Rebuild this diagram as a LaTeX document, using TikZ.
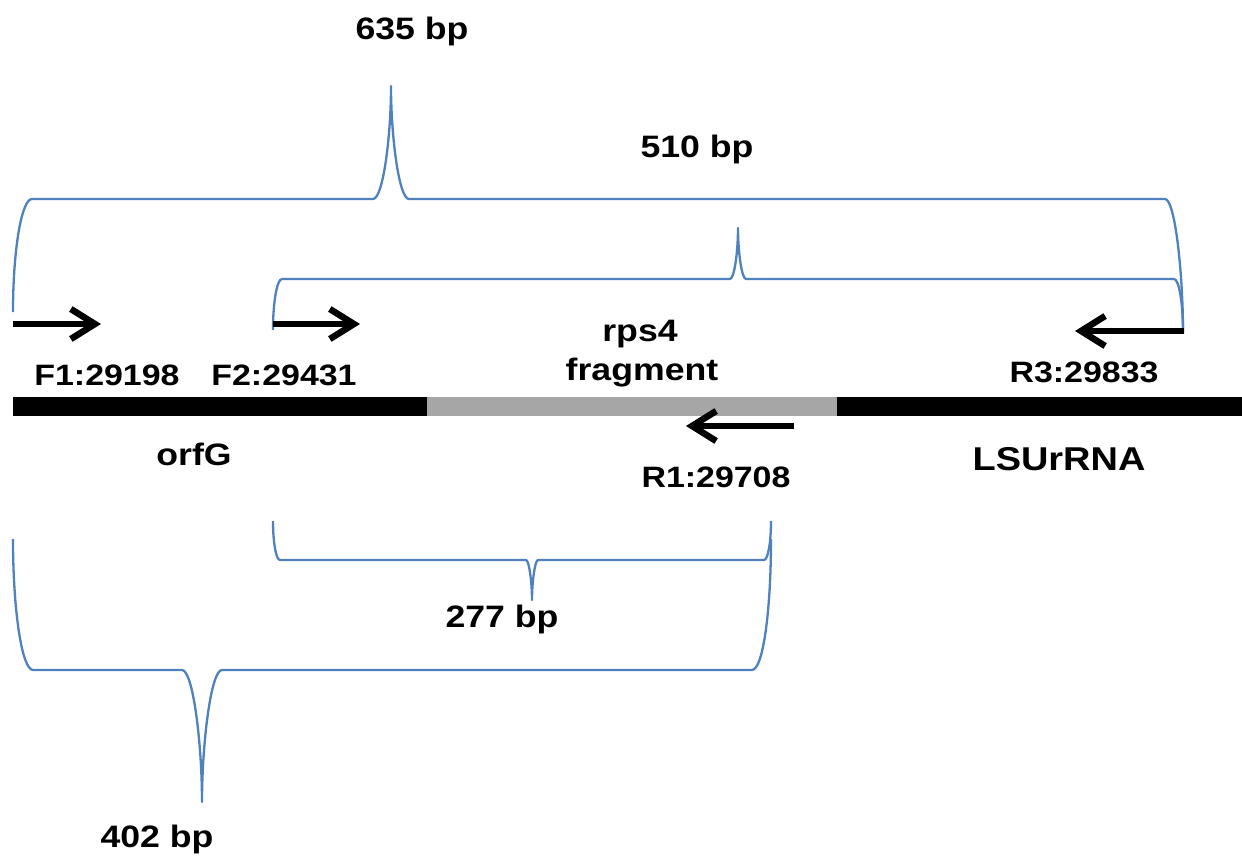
\documentclass[tikz,border=0pt]{standalone}
\usepackage{fontspec}
\setmainfont{Liberation Sans}[FakeStretch=1.15]
\usetikzlibrary{arrows.meta}
\definecolor{braceblue}{HTML}{4F81BD}
\definecolor{fraggray}{HTML}{A6A6A6}
\tikzset{
  brace/.style={draw=braceblue, line width=2.3pt, line join=round},
  primer/.style={line width=6.5pt, -{Straight Barb[length=24pt,width=30pt,line width=6.5pt]}},
  lab/.style={anchor=base, inner sep=0pt, font=\fontsize{31}{37}\selectfont\bfseries},
  primlab/.style={anchor=base, inner sep=0pt, font=\fontsize{29.5}{35}\selectfont\bfseries},
  biglab/.style={anchor=base, inner sep=0pt, font=\fontsize{33}{39}\selectfont\bfseries},
}
\begin{document}
\begin{tikzpicture}[x=1pt,y=-1pt]
\useasboundingbox (0,0) rectangle (1242,859);
% gene bar
\fill[black] (13,397) rectangle (427,416);
\fill[fraggray] (427,397) rectangle (837,416);
\fill[black] (837,397) rectangle (1242,416);
% braces
\draw[brace] (13,312) .. controls (13,250) and (21.5,199) .. (32,199) -- (373,199)
  .. controls (383,199) and (391,137) .. (391,86)
  .. controls (391,137) and (399,199) .. (409,199) -- (1165,199)
  .. controls (1175,199) and (1183,273) .. (1183,333);
\draw[brace] (273,330) .. controls (273,302) and (277,279) .. (282,279) -- (730,279)
  .. controls (734.4,279) and (738,251) .. (738,228)
  .. controls (738,251) and (741.6,279) .. (746,279) -- (1174,279)
  .. controls (1179,279) and (1183,303) .. (1183,333);
\draw[brace] (273,521) .. controls (273,542) and (276,560) .. (280,560) -- (526,560)
  .. controls (529,560) and (532,582) .. (532,600)
  .. controls (532,582) and (535,560) .. (538,560) -- (764,560)
  .. controls (768,560) and (771,542) .. (771,521);
\draw[brace] (13,539) .. controls (13,611) and (22,670) .. (33,670) -- (182,670)
  .. controls (193,670) and (202,743) .. (202,802)
  .. controls (202,743) and (211,670) .. (222,670) -- (752,670)
  .. controls (763,670) and (771,611) .. (771,539);
% primers
\coordinate (f1s) at (13,324); \coordinate (f1e) at (101,324);
\coordinate (f2s) at (273,324); \coordinate (f2e) at (360,324);
\coordinate (r3s) at (1184,331); \coordinate (r3e) at (1075,331);
\coordinate (r1s) at (794,426); \coordinate (r1e) at (686,426);
\draw[primer] (f1s) -- (f1e);
\draw[primer] (f2s) -- (f2e);
\draw[primer] (r3s) -- (r3e);
\draw[primer] (r1s) -- (r1e);
% labels
\node[lab] (l635) at (412,40) {635 bp};
\node[lab] (l510) at (697,157) {510 bp};
\node[lab] (lrps) at (640,341) {rps4};
\node[lab] (lfrag) at (642,380) {fragment};
\node[primlab] (lf1) at (107,385) {F1:29198};
\node[primlab] (lf2) at (284,385) {F2:29431};
\node[primlab] (lr3) at (1084,382) {R3:29833};
\node[lab] (lorf) at (194,465) {orfG};
\node[primlab] (lr1) at (716,487) {R1:29708};
\node[biglab] (llsu) at (1059,470) {LSUrRNA};
\node[lab] (l277) at (502,627) {277 bp};
\node[lab] (l402) at (157,847) {402 bp};
\end{tikzpicture}
\end{document}
